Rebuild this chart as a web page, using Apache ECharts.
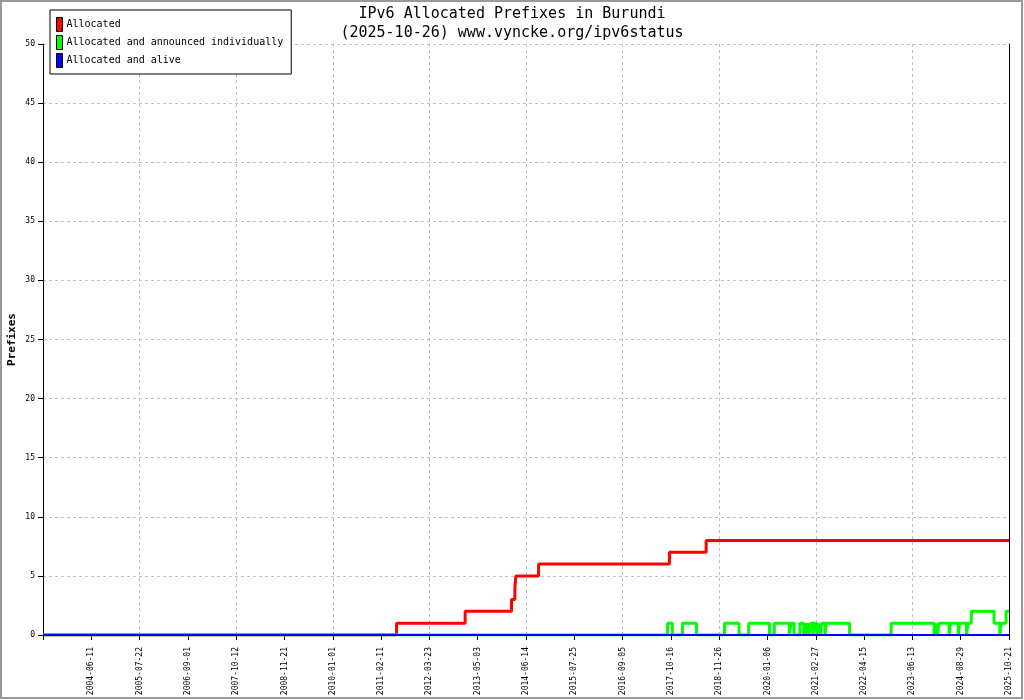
<!DOCTYPE html>
<html style="height: 100%">
<head>
<meta charset="utf-8">
<title>IPv6 Allocated Prefixes in Burundi</title>
<style>
  html, body { margin: 0; padding: 0; background: #fff; }
  #chart { width: 1024px; height: 700px; }
</style>
</head>
<body>
<div id="chart"></div>
<script src="https://cdn.jsdelivr.net/npm/echarts@6/dist/echarts.min.js"></script>
<script>
// tick labels of the x axis (tick 1..20)
var tickLabels = ['2004-06-11','2005-07-22','2006-09-01','2007-10-12','2008-11-21',
  '2010-01-01','2011-02-11','2012-03-23','2013-05-03','2014-06-14',
  '2015-07-25','2016-09-05','2017-10-16','2018-11-26','2020-01-06',
  '2021-02-27','2022-04-15','2023-06-13','2024-08-29','2025-10-21'];

// vertical grid lines sit on every second tick
var gridTicks = [2, 4, 6, 8, 10, 12, 14, 16, 18];

// step data: [position in tick units, value held until next point]
var allocated = [[0,0],[7.32,1],[8.74,2],[9.70,3],[9.77,4],[9.79,5],[10.26,6],[12.97,7],[13.73,8],[20,8]];

var announced = [[0,0],[12.93,1],[13.03,0],[13.24,1],[13.53,0],[14.11,1],[14.41,0],[14.61,1],
  [15.04,0],[15.14,1],[15.45,0],[15.49,1],[15.55,0],[15.67,1],
  [15.75,0],[15.78,1],[15.81,0],[15.84,1],[15.86,0],[15.89,1],[15.94,0],[15.97,1],
  [16.02,0],[16.05,1],[16.09,0],[16.12,1],[16.19,0],[16.22,1],
  [16.70,0],[17.56,1],
  [18.45,0],[18.48,1],[18.52,0],[18.55,1],[18.76,0],[18.79,1],[18.95,0],[18.98,1],[19.12,0],[19.15,1],
  [19.22,2],[19.69,1],[19.81,0],[19.84,1],[19.94,2],[20,2]];

var alive = [[0,0],[20,0]];

var mono = 'DejaVu Sans Mono';

var myChart = echarts.init(document.getElementById('chart'));
var option = {
  animation: false,
  backgroundColor: '#fff',
  title: {
    text: 'IPv6 Allocated Prefixes in Burundi\n(2025-10-26) www.vyncke.org/ipv6status',
    left: 'center',
    top: 0,
    textStyle: { fontFamily: mono, fontSize: 15, fontWeight: 'normal', color: '#000', lineHeight: 19 }
  },
  graphic: [{
    type: 'rect',
    shape: { x: 1, y: 1, width: 1021, height: 697 },
    style: { fill: 'none', stroke: '#999', lineWidth: 2 },
    silent: true
  }],
  legend: {
    orient: 'vertical',
    left: 50,
    top: 10,
    z: 10,
    padding: [7, 8, 6, 6],
    itemGap: 3,
    itemWidth: 6,
    itemHeight: 14,
    icon: 'rect',
    borderColor: '#000',
    borderWidth: 1,
    backgroundColor: '#fff',
    itemStyle: { borderColor: '#000', borderWidth: 1 },
    textStyle: { fontFamily: mono, fontSize: 10, color: '#000', padding: [0, 0, 0, -1] },
    data: ['Allocated', 'Allocated and announced individually', 'Allocated and alive']
  },
  grid: { left: 43, right: 15, top: 44, bottom: 65, containLabel: false, outerBoundsMode: 'none' },
  xAxis: {
    type: 'value',
    min: 0, max: 20, interval: 1,
    axisLine: { lineStyle: { color: '#000', width: 1 } },
    axisTick: { length: 5, lineStyle: { color: '#000' } },
    axisLabel: {
      rotate: 90,
      fontFamily: mono, fontSize: 8, color: '#000', margin: 12,
      formatter: function (v) { return tickLabels[Math.round(v) - 1] || ''; }
    },
    splitLine: { show: false }
  },
  yAxis: [{
    type: 'value',
    min: 0, max: 50, interval: 5,
    name: 'Prefixes',
    nameLocation: 'middle',
    nameGap: 25,
    nameMoveOverlap: false,
    nameRotate: 90,
    nameTextStyle: { fontFamily: mono, fontSize: 11, fontWeight: 'bold', color: '#000' },
    axisLine: { show: true, lineStyle: { color: '#000' } },
    axisTick: { show: true, length: 5, lineStyle: { color: '#000' } },
    axisLabel: { fontFamily: mono, fontSize: 8, color: '#000', margin: 8 },
    splitLine: { show: true, lineStyle: { color: '#c0c0c0', type: [3, 3] } }
  }, {
    type: 'value',
    min: 0, max: 50,
    position: 'right',
    axisLine: { show: true, lineStyle: { color: '#000' } },
    axisTick: { show: false },
    axisLabel: { show: false },
    splitLine: { show: false }
  }],
  series: [{
    name: 'grid',
    type: 'line',
    data: [],
    silent: true,
    z: 1,
    markLine: {
      silent: true,
      z: 1,
      symbol: ['none', 'none'],
      label: { show: false },
      lineStyle: { color: '#c0c0c0', type: [3, 3], width: 1 },
      emphasis: { disabled: true },
      data: gridTicks.map(function (t) { return { xAxis: t }; })
    }
  }, {
    name: 'Allocated',
    type: 'line',
    step: 'end',
    showSymbol: false,
    color: '#ff0000',
    lineStyle: { width: 3 },
    z: 3,
    data: allocated
  }, {
    name: 'Allocated and announced individually',
    type: 'line',
    step: 'end',
    showSymbol: false,
    color: '#00ff00',
    lineStyle: { width: 3 },
    z: 3,
    data: announced
  }, {
    name: 'Allocated and alive',
    type: 'line',
    step: 'end',
    showSymbol: false,
    color: '#0000ff',
    lineStyle: { width: 2 },
    z: 3,
    data: alive
  }]
};
myChart.setOption(option);
</script>
</body>
</html>
